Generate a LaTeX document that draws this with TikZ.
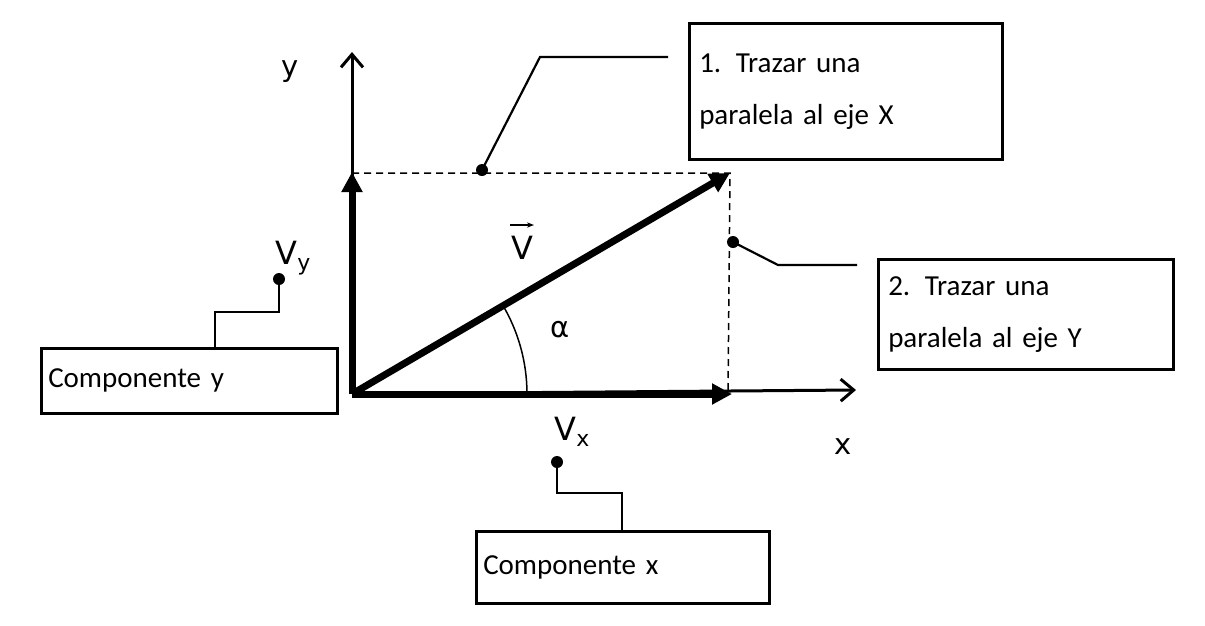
\documentclass[tikz,border=0pt]{standalone}
\usepackage{fontspec}
\setmainfont{Carlito}
\newfontfamily\dv{DejaVu Sans}
\usetikzlibrary{arrows.meta}
\begin{document}
\begin{tikzpicture}[x=1pt,y=-1pt,
  lbl/.style={font=\fontsize{29}{52}\selectfont},
  box/.style={draw,line width=2.5pt},
  vec/.style={line width=7pt,-{Triangle[length=20pt,width=20pt]}},
  axis/.style={line width=3pt,-{Straight Barb[length=13pt,width=22pt]}},
  lead/.style={line width=2.2pt},
  dotm/.style={circle,fill,inner sep=0pt,minimum size=12pt}]
\useasboundingbox (0,0) rectangle (1205,625);
\coordinate (O) at (352,394);
\coordinate (P) at (730,173);
\coordinate (Y) at (352,52);
\coordinate (X) at (856,390);
\draw[axis] (O) -- (Y);
\draw[axis] (O) -- (X);
\draw[line width=1.5pt,dash pattern=on 7pt off 5pt] (352,173) -- (P) -- (728,394);
\draw[vec] (O) -- (352,172);
\draw[vec] (O) -- (732,394);
\draw[vec] (O) -- (P);
\draw[line width=1.5pt] (527,394) arc[start angle=0,end angle=-31,radius=175];
\node[lbl] (alpha) at (560,330) {\dv α};
\node[lbl] (ylab) at (290,72) {\dv y};
\node[lbl] (xlab) at (843,447) {\dv x};
\node[font=\fontsize{32}{36}\selectfont] (V) at (522,248) {\dv V};
\draw[line width=1.5pt,-{Stealth[length=7pt]}] (510,225) -- (534,225);
\node[font=\fontsize{32}{36}\selectfont] (Vy) at (293,258) {\dv V\raisebox{-6pt}{\fontsize{22}{24}\selectfont y}};
\node[font=\fontsize{32}{36}\selectfont] (Vx) at (572,432) {\dv V\raisebox{-6pt}{\fontsize{22}{24}\selectfont x}};
% boxes
\node[box,lbl,minimum width=313pt,minimum height=136pt,align=left,anchor=north west,text width=293pt] (b1) at (688,22) {1. Trazar una\\paralela al eje X};
\node[box,lbl,minimum width=295pt,minimum height=110pt,align=left,anchor=north west,text width=275pt] (b2) at (877,258) {2. Trazar una\\paralela al eje Y};
\node[box,lbl,minimum width=296pt,minimum height=65pt,align=left,anchor=north west,text width=282pt,inner sep=6pt] (by) at (40,347) {Componente y};
\node[box,lbl,minimum width=293pt,minimum height=72pt,align=left,anchor=north west,text width=279pt,inner sep=6pt] (bx) at (475,530) {Componente x};
% leaders
\node[dotm] (d1) at (482,170) {};
\node[dotm] (d2) at (733,242) {};
\node[dotm] (dy) at (279,279) {};
\node[dotm] (dx) at (557,462) {};
\coordinate (c1) at (668,57);
\coordinate (c2) at (857,265);
\draw[lead] (d1.center) -- (540,57) -- (c1);
\draw[lead] (d2.center) -- (778,265) -- (c2);
\draw[lead] (dy.center) -- (279,312) -- (215,312) -- (215,347);
\draw[lead] (dx.center) -- (557,493) -- (622,493) -- (622,530);
\end{tikzpicture}
\end{document}
